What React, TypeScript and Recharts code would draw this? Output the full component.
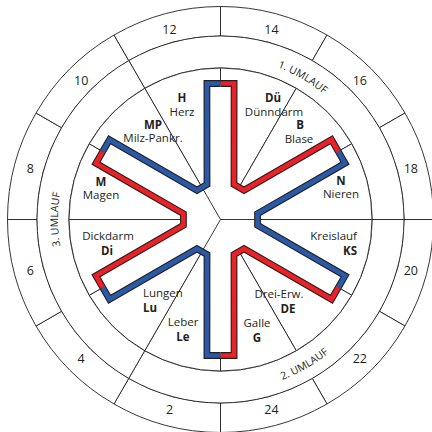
import React from 'react';
import { PieChart, Pie, ScatterChart, Scatter, XAxis, YAxis } from 'recharts';

// ---------- data ----------
// 2-hour slots of the outer ring, clockwise from 12 o'clock
const HOURS = ['14', '16', '18', '20', '22', '24', '2', '4', '6', '8', '10', '12'];
const HOUR_SPAN = [2, 2, 2, 2, 2, 2, 2, 2, 2, 2, 2, 2];
// the three circuits (each spans four organs)
const CIRCUITS = ['1. UMLAUF', '2. UMLAUF', '3. UMLAUF'];
const CIRCUIT_SPAN = [4, 4, 4];
// organs, clockwise starting at Herz (11–13 h)
const ORGAN_ABBR = ['H', 'Dü', 'B', 'N', 'KS', 'DE', 'G', 'Le', 'Lu', 'Di', 'M', 'MP'];
const ORGAN_NAMES = ['Herz', 'Dünndarm', 'Blase', 'Nieren', 'Kreislauf', 'Drei-Erw.', 'Galle', 'Leber', 'Lungen', 'Dickdarm', 'Magen', 'Milz-Pankr.'];
const ORGAN_SPAN = [2, 2, 2, 2, 2, 2, 2, 2, 2, 2, 2, 2];

// star outline: polar points (degrees clockwise from 12 o'clock, radius px)
const STAR_RADII = [136, 136.7, 37.5, 37.5, 136.7, 136];
const SEG_DU_B = [0, 5.7, 21.1, 38.9, 54.3, 60];
const SEG_N_KS = [60, 65.7, 81.1, 98.9, 114.3, 120];
const SEG_DE_G = [120, 125.7, 141.1, 158.9, 174.3, 180];
const SEG_LE_LU = [180, 185.7, 201.1, 218.9, 234.3, 240];
const SEG_DI_M = [240, 245.7, 261.1, 278.9, 294.3, 300];
const SEG_MP_H = [300, 305.7, 321.1, 338.9, 354.3, 360];
// circuit borders running through the hub
const HUB_LINE_ANGLES = [330, 90, 210];
const HUB_LINE_RADII = [0, 37.5];

// ---------- layout / style ----------
const W = 432;
const H = 432;
const CX = 220.5;
const CY = 219.5;
const R1 = 213;
const R2 = 183.5;
const R3 = 151.5;
const HOUR_LABEL_R = 197;
const INK = '#231F20';
const RED = '#EC2127';
const BLUE = '#2A59A8';
const FONT = '"Open Sans", "Noto Sans", sans-serif';
const RAD = Math.PI / 180;

const CIRCUIT_TEXT = [
  { dir: 'cw', r: 162.5 },
  { dir: 'ccw', r: 172 },
  { dir: 'cw', r: 162.5 },
];

const ORGAN_LABEL_LAYOUT: { abbr: [number, number]; name: [number, number]; anchor: string }[] = [
  { abbr: [-38.5, -122], name: [-38.5, -108.5], anchor: 'middle' }, // H
  { abbr: [52.5, -122], name: [53.5, -108.5], anchor: 'middle' }, // Dü
  { abbr: [79.5, -95], name: [78.5, -81.5], anchor: 'middle' }, // B
  { abbr: [120.5, -39.5], name: [120.5, -26], anchor: 'middle' }, // N
  { abbr: [136.5, 30.5], name: [136.5, 15.5], anchor: 'end' }, // KS
  { abbr: [67.5, 88.5], name: [58.5, 73.5], anchor: 'middle' }, // DE
  { abbr: [36.5, 117.5], name: [36.5, 102.5], anchor: 'middle' }, // G
  { abbr: [-37.5, 116.5], name: [-37.5, 101.5], anchor: 'middle' }, // Le
  { abbr: [-77.5, 87.5], name: [-77.5, 72.5], anchor: 'start' }, // Lu
  { abbr: [-113.5, 30.5], name: [-112.5, 15.5], anchor: 'middle' }, // Di
  { abbr: [-119.5, -38.5], name: [-119.5, -25], anchor: 'middle' }, // M
  { abbr: [-67.5, -95.5], name: [-67.5, -82], anchor: 'middle' }, // MP
];

// ---------- helpers ----------
const toXY = (angles: number[], radii: number[]) =>
  angles.map((a, i) => ({ x: radii[i] * Math.sin(a * RAD), y: radii[i] * Math.cos(a * RAD) }));

const hourData = HOURS.map((h, i) => ({ name: h, value: HOUR_SPAN[i] }));
const circuitData = CIRCUITS.map((c, i) => ({ name: c, value: CIRCUIT_SPAN[i] }));
const organData = ORGAN_ABBR.map((a, i) => ({ name: a, full: ORGAN_NAMES[i], value: ORGAN_SPAN[i] }));

const segments = [
  { angles: SEG_DU_B, color: RED },
  { angles: SEG_N_KS, color: BLUE },
  { angles: SEG_DE_G, color: RED },
  { angles: SEG_LE_LU, color: BLUE },
  { angles: SEG_DI_M, color: RED },
  { angles: SEG_MP_H, color: BLUE },
].map((s) => ({ ...s, points: toXY(s.angles, STAR_RADII) }));

const starFill = segments.flatMap((s) => s.points.slice(0, s.points.length - 1));
const hubLines = HUB_LINE_ANGLES.map((a) => toXY([a, a], HUB_LINE_RADII));

const pathOf = (pts: { x: number; y: number }[], closed: boolean) =>
  pts.map((p, i) => `${i ? 'L' : 'M'}${p.x},${p.y}`).join('') + (closed ? 'Z' : '');

const makeLine = (style: any, closed = false) => (props: any) =>
  <path d={pathOf(props.points || [], closed)} {...style} />;

const noShape = () => <g />;

// ---------- labels ----------
const renderHourLabel = (props: any) => {
  const { cx, cy, midAngle, index } = props;
  const x = cx + HOUR_LABEL_R * Math.cos(-midAngle * RAD);
  const y = cy + HOUR_LABEL_R * Math.sin(-midAngle * RAD);
  return (
    <text key={`h${index}`} x={x} y={y} textAnchor="middle" dominantBaseline="central"
      fontFamily={FONT} fontSize={12.5} fill={INK}>
      {HOURS[index]}
    </text>
  );
};

const renderCircuitLabel = (props: any) => {
  const { cx, cy, midAngle, index } = props;
  const mid = 90 - midAngle; // clockwise from top
  const a1 = mid - 60;
  const a2 = mid + 60;
  const { dir, r } = CIRCUIT_TEXT[index];
  const pt = (a: number) => [cx + r * Math.sin(a * RAD), cy - r * Math.cos(a * RAD)];
  const [sx, sy] = dir === 'cw' ? pt(a1) : pt(a2);
  const [ex, ey] = dir === 'cw' ? pt(a2) : pt(a1);
  const sweep = dir === 'cw' ? 1 : 0;
  const id = `umlauf-arc-${index}`;
  return (
    <g key={id}>
      <path id={id} d={`M${sx},${sy}A${r},${r} 0 0 ${sweep} ${ex},${ey}`} fill="none" stroke="none" />
      <text fontFamily={FONT} fontSize={10.5} fill={INK}>
        <textPath href={`#${id}`} startOffset="50%" textAnchor="middle">
          {CIRCUITS[index]}
        </textPath>
      </text>
    </g>
  );
};

const renderOrganLabel = (props: any) => {
  const { cx, cy, index } = props;
  const l = ORGAN_LABEL_LAYOUT[index];
  return (
    <g key={`o${index}`}>
      <text x={cx + l.abbr[0]} y={cy + l.abbr[1]} textAnchor={l.anchor as any} dominantBaseline="central"
        fontFamily={FONT} fontSize={11.5} fontWeight={700} fill={INK}>
        {ORGAN_ABBR[index]}
      </text>
      <text x={cx + l.name[0]} y={cy + l.name[1]} textAnchor={l.anchor as any} dominantBaseline="central"
        fontFamily={FONT} fontSize={11.5} fill={INK}>
        {ORGAN_NAMES[index]}
      </text>
    </g>
  );
};

export default function App() {
  const margin = { top: 0, right: 0, bottom: 0, left: 0 };
  return (
    <div style={{ position: 'absolute', left: 0, top: 0, width: W, height: H, background: '#fff' }}>
      <div style={{ position: 'absolute', left: 0, top: 0 }}>
        <PieChart width={W} height={H} margin={margin}>
          <Pie data={hourData} dataKey="value" nameKey="name" cx={CX} cy={CY}
            innerRadius={R2} outerRadius={R1} startAngle={90} endAngle={-270}
            fill="#fff" stroke={INK} strokeWidth={0.9} isAnimationActive={false}
            label={renderHourLabel} labelLine={false} />
          <Pie data={circuitData} dataKey="value" nameKey="name" cx={CX} cy={CY}
            innerRadius={R3} outerRadius={R2} startAngle={120} endAngle={-240}
            fill="#fff" stroke={INK} strokeWidth={0.9} isAnimationActive={false}
            label={renderCircuitLabel} labelLine={false} />
          <Pie data={organData} dataKey="value" nameKey="name" cx={CX} cy={CY}
            innerRadius={0} outerRadius={R3} startAngle={120} endAngle={-240}
            fill="#fff" stroke={INK} strokeWidth={0.9} isAnimationActive={false}
            label={renderOrganLabel} labelLine={false} />
        </PieChart>
      </div>
      <div style={{ position: 'absolute', left: 0, top: 0 }}>
        <ScatterChart width={W} height={H} margin={margin}>
          <XAxis type="number" dataKey="x" domain={[-CX, W - CX]} allowDataOverflow hide />
          <YAxis type="number" dataKey="y" domain={[CY - H, CY]} allowDataOverflow hide />
          <Scatter data={starFill} shape={noShape} isAnimationActive={false}
            line={makeLine({ fill: '#fff', stroke: 'none' }, true)} />
          {hubLines.map((pts, i) => (
            <Scatter key={`hub${i}`} data={pts} shape={noShape} isAnimationActive={false}
              line={makeLine({ fill: 'none', stroke: INK, strokeWidth: 0.9 })} />
          ))}
          {segments.map((s, i) => (
            <Scatter key={`ol${i}`} data={s.points} shape={noShape} isAnimationActive={false}
              line={makeLine({ fill: 'none', stroke: INK, strokeWidth: 6.8, strokeLinejoin: 'miter', strokeLinecap: 'butt' })} />
          ))}
          {segments.map((s, i) => (
            <Scatter key={`c${i}`} data={s.points} shape={noShape} isAnimationActive={false}
              line={makeLine({ fill: 'none', stroke: s.color, strokeWidth: 4.6, strokeLinejoin: 'miter', strokeLinecap: 'butt' })} />
          ))}
        </ScatterChart>
      </div>
    </div>
  );
}
